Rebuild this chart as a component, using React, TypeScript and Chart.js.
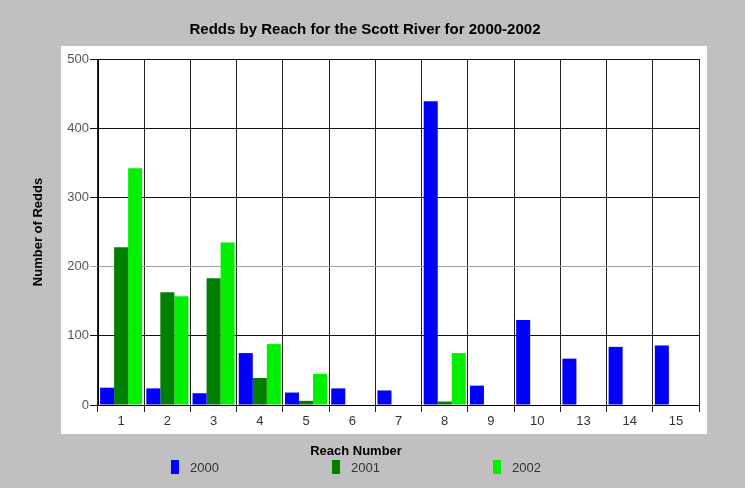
import React, { useEffect, useRef } from "react";
import { Chart, registerables } from "chart.js";

Chart.register(...registerables);

const categories = ["1", "2", "3", "4", "5", "6", "7", "8", "9", "10", "13", "14", "15"];
const seriesNames = ["2000", "2001", "2002"];
const redds2000 = [25, 24, 17, 75, 18, 24, 21, 439, 28, 123, 67, 84, 86];
const redds2001 = [228, 163, 183, 39, 6, 0, 0, 5, 0, 0, 0, 0, 0];
const redds2002 = [342, 157, 235, 88, 45, 0, 0, 75, 0, 0, 0, 0, 0];
const seriesColors = ["#0000FF", "#007F00", "#00F000"];
const yTickValues = [0, 100, 200, 300, 400, 500];
const titleText = "Redds by Reach for the Scott River for 2000-2002";
const xTitleText = "Reach Number";
const yTitleText = "Number of Redds";

const FONT = "'Liberation Sans', Arial, sans-serif";

const decorPlugin = {
  id: "decor",
  beforeDraw(chart: any) {
    const ctx = chart.ctx;
    ctx.save();
    ctx.fillStyle = "#C0C0C0";
    ctx.fillRect(0, 0, chart.width, chart.height);
    ctx.fillStyle = "#FFFFFF";
    ctx.fillRect(61, 46, 646, 388);
    ctx.restore();
  },
  afterDraw(chart: any) {
    const ctx = chart.ctx;
    const area = chart.chartArea;
    ctx.save();
    // Title
    ctx.fillStyle = "#000";
    ctx.font = `bold 15px ${FONT}`;
    ctx.textAlign = "center";
    ctx.textBaseline = "middle";
    ctx.fillText(titleText, 365, 30);
    // X title
    ctx.font = `bold 13px ${FONT}`;
    ctx.fillText(xTitleText, 356, 451);
    // Y title
    ctx.save();
    ctx.translate(38, (area.top + area.bottom) / 2);
    ctx.rotate(-Math.PI / 2);
    ctx.fillText(yTitleText, 0, 0);
    ctx.restore();
    // Legend
    const legendX = [171, 332, 493];
    ctx.font = `13px ${FONT}`;
    ctx.textAlign = "left";
    chart.data.datasets.forEach((ds: any, i: number) => {
      const x = legendX[i];
      ctx.fillStyle = ds.backgroundColor;
      ctx.fillRect(x, 460, 8, 14);
      ctx.fillStyle = "#333";
      ctx.fillText(ds.label, x + 19, 468);
    });
    ctx.restore();
  },
};

export default function App() {
  const ref = useRef<HTMLCanvasElement | null>(null);
  useEffect(() => {
    document.body.style.margin = "0";
    const canvas = ref.current;
    if (!canvas) return;
    const data = [redds2000, redds2001, redds2002];
    const chart = new Chart(canvas, {
      type: "bar",
      data: {
        labels: categories,
        datasets: seriesNames.map((name, i) => ({
          label: name,
          data: data[i],
          backgroundColor: seriesColors[i],
          borderWidth: 0,
          categoryPercentage: 0.91,
          barPercentage: 1.0,
        })),
      },
      options: {
        responsive: false,
        animation: false,
        devicePixelRatio: 1,
        layout: { padding: { top: 59, right: 46, left: 0, bottom: 0 } },
        plugins: {
          legend: { display: false },
          title: { display: false },
          tooltip: { enabled: false },
        },
        scales: {
          x: {
            type: "category",
            grid: {
              color: "#222",
              offset: true,
              tickLength: 7,
              lineWidth: 1,
            },
            border: { color: "#000" },
            ticks: {
              color: "#333",
              font: { family: FONT, size: 13 },
              padding: 2,
              maxRotation: 0,
            },
            afterFit(scale: any) {
              scale.height = 83;
            },
          },
          y: {
            min: 0,
            max: 500,
            afterBuildTicks(scale: any) {
              scale.ticks = yTickValues.map((v) => ({ value: v }));
            },
            grid: {
              color: (c: any) => (c.tick && c.tick.value === 200 ? "#A0A0A0" : "#111"),
              tickLength: 8,
              lineWidth: 1,
            },
            border: { color: "#000" },
            ticks: {
              color: "#555",
              font: { family: FONT, size: 13 },
              padding: 1,
            },
            afterFit(scale: any) {
              scale.width = 98;
            },
          },
        },
      },
      plugins: [decorPlugin],
    });
    return () => chart.destroy();
  }, []);
  return (
    <canvas
      ref={ref}
      width={745}
      height={488}
      style={{ display: "block", width: 745, height: 488 }}
    />
  );
}
